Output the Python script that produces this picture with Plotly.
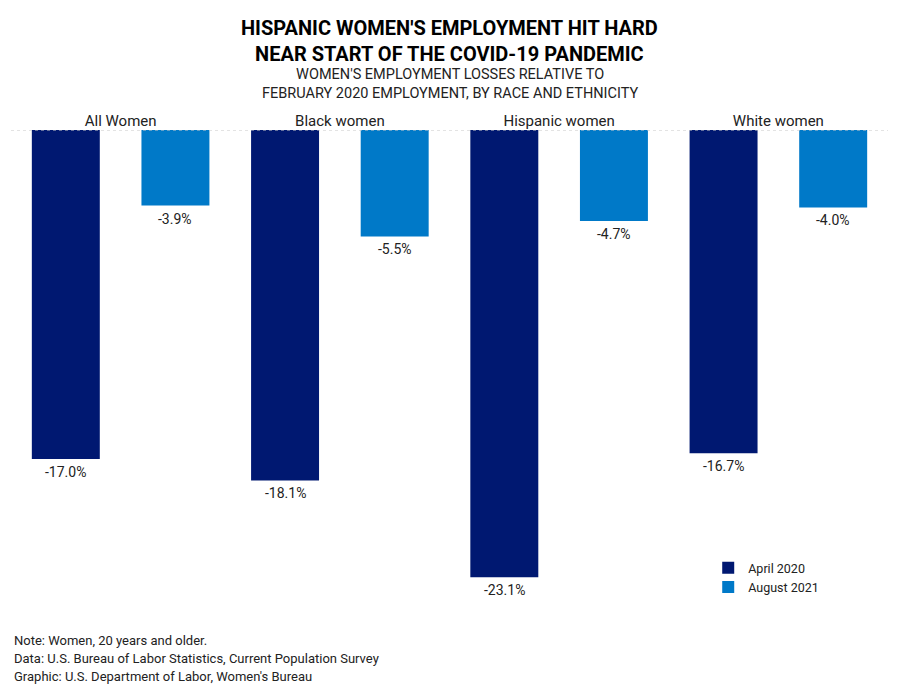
import plotly.graph_objects as go

# data
groups = ["All Women", "Black women", "Hispanic women", "White women"]
april_2020 = [-17.0, -18.1, -23.1, -16.7]
august_2021 = [-3.9, -5.5, -4.7, -4.0]

notes = ["Note: Women, 20 years and older.",
         "Data: U.S. Bureau of Labor Statistics, Current Population Survey",
         "Graphic: U.S. Department of Labor, Women's Bureau"]

NAVY = "#001871"
BLUE = "#0079C8"
TXT = "#222222"

fig = go.Figure()

fig.add_trace(go.Bar(
    name="April 2020", x=groups, y=april_2020,
    marker=dict(color=NAVY, line=dict(width=0))))

fig.add_trace(go.Bar(
    name="August 2021", x=groups, y=august_2021,
    marker=dict(color=BLUE, line=dict(width=0))))

# value labels under bar ends (half a bar slot to each side of the category)
half_slot = 877 / 4 / 4
for vals, shift in [(april_2020, -half_slot), (august_2021, half_slot)]:
    for g, v in zip(groups, vals):
        fig.add_annotation(x=g, y=v, xref="x", yref="y", xshift=shift,
                           yshift=-13, yanchor="middle", text=f"{v:.1f}%",
                           showarrow=False, font=dict(size=14, color=TXT))

# dotted zero line
fig.add_shape(type="line", xref="paper", yref="y", x0=0, x1=1, y0=0, y1=0,
              line=dict(color="#c8c8c8", width=1, dash="dot"))

# title + subtitle
fig.add_annotation(
    xref="paper", yref="paper", x=0.5, y=1, yshift=116, yanchor="top",
    text="<b>HISPANIC WOMEN'S EMPLOYMENT HIT HARD<br>NEAR START OF THE COVID-19 PANDEMIC</b>",
    showarrow=False, font=dict(family="Roboto", size=20, color="#000"))
fig.add_annotation(
    xref="paper", yref="paper", x=0.5, y=1, yshift=66, yanchor="top",
    text="WOMEN'S EMPLOYMENT LOSSES RELATIVE TO<br>FEBRUARY 2020 EMPLOYMENT, BY RACE AND ETHNICITY",
    showarrow=False, font=dict(family="Roboto", size=14.5, color=TXT))

# footnotes, one line each
for i, line in enumerate(notes):
    fig.add_annotation(
        xref="paper", yref="paper", x=0, xshift=1, y=0, yshift=-(26 + 18 * i),
        yanchor="middle", xanchor="left", align="left", text=line,
        showarrow=False, font=dict(family="Roboto", size=13, color=TXT))

# page body adds an 8px offset, so the figure is a bit smaller than the window
fig.update_layout(
    width=891, height=691,
    margin=dict(l=3, r=11, t=122, b=85),
    paper_bgcolor="white", plot_bgcolor="white",
    font=dict(family="Roboto", color=TXT),
    barmode="group", bargap=0.0, bargroupgap=0.38,
    showlegend=True,
    legend=dict(x=0.795, y=0.126, xanchor="left", yanchor="top",
                font=dict(size=12.5, color=TXT), bgcolor="rgba(0,0,0,0)",
                tracegroupgap=2),
)

fig.update_xaxes(side="top", showline=False, showgrid=False, ticks="",
                 automargin=False,
                 tickfont=dict(size=15, color=TXT), range=[-0.5, 3.5])
fig.update_yaxes(range=[-25, 0], visible=False, showgrid=False, zeroline=False)

fig.write_html("out.html")
